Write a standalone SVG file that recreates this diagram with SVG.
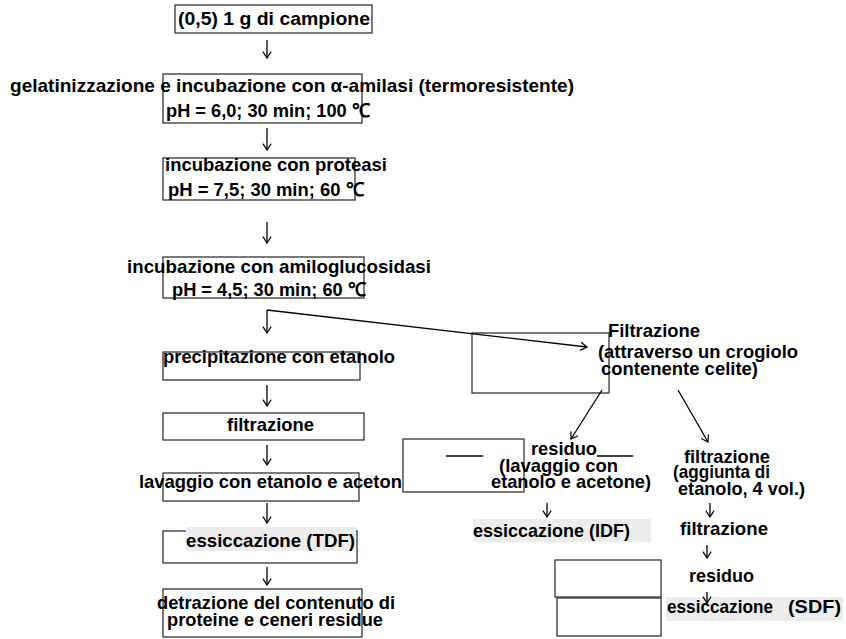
<svg xmlns="http://www.w3.org/2000/svg" width="846" height="639" viewBox="0 0 846 639">
  <style>
    .box { fill: none; stroke: #333; stroke-width: 1.3; }
    .hl { fill: #ececec; stroke: none; }
    .t { font-family: "Liberation Sans", Arial, sans-serif; font-weight: bold; font-size: 19px; fill: #000; }
    .c { fill: none; stroke: #000; stroke-width: 1.3; }
    .ca { fill: none; stroke: #000; stroke-width: 1.3; marker-end: url(#head); }
  </style>
  <defs>
    <marker id="head" viewBox="0 0 12 12" refX="11" refY="6" markerWidth="11" markerHeight="11" markerUnits="userSpaceOnUse" orient="auto">
      <path d="M4,1.5 L11,6 L4,10.5" fill="none" stroke="#000" stroke-width="1.3"/>
    </marker>
  </defs>
  <rect width="846" height="639" fill="#fff"/>

  <!-- main column -->
  <g id="campione">
    <rect class="box" x="175" y="5" width="197" height="28"/>
    <text class="t" x="178" y="25" textLength="192" lengthAdjust="spacingAndGlyphs">(0,5) 1 g di campione</text>
  </g>
  <g id="gelatinizzazione">
    <rect class="box" x="163" y="74" width="199" height="49"/>
    <text class="t" x="10" y="92" textLength="564" lengthAdjust="spacingAndGlyphs">gelatinizzazione e incubazione con α-amilasi (termoresistente)</text>
    <text class="t" x="166" y="117" textLength="204" lengthAdjust="spacingAndGlyphs">pH = 6,0; 30 min; 100 ℃</text>
  </g>
  <g id="proteasi">
    <rect class="box" x="163" y="158" width="192" height="42"/>
    <text class="t" x="165" y="171" textLength="222" lengthAdjust="spacingAndGlyphs">incubazione con proteasi</text>
    <text class="t" x="168" y="196" textLength="196" lengthAdjust="spacingAndGlyphs">pH = 7,5; 30 min; 60 ℃</text>
  </g>
  <g id="amiloglucosidasi">
    <rect class="box" x="163" y="257" width="201" height="41"/>
    <text class="t" x="127" y="273" textLength="304" lengthAdjust="spacingAndGlyphs">incubazione con amiloglucosidasi</text>
    <text class="t" x="172" y="296" textLength="194" lengthAdjust="spacingAndGlyphs">pH = 4,5; 30 min; 60 ℃</text>
  </g>
  <g id="precipitazione">
    <rect class="box" x="163" y="352" width="197" height="28"/>
    <text class="t" x="163" y="363" textLength="232" lengthAdjust="spacingAndGlyphs">precipitazione con etanolo</text>
  </g>
  <g id="filtrazione-1">
    <rect class="box" x="163" y="413" width="201" height="27"/>
    <text class="t" x="227" y="431" textLength="87" lengthAdjust="spacingAndGlyphs">filtrazione</text>
  </g>
  <g id="lavaggio">
    <rect class="box" x="163" y="473" width="196" height="28"/>
    <text class="t" x="139" y="488" textLength="263" lengthAdjust="spacingAndGlyphs">lavaggio con etanolo e aceton</text>
  </g>
  <g id="essiccazione-tdf">
    <rect class="box" x="163" y="531" width="194" height="32"/>
    <rect class="hl" x="186" y="527" width="170" height="24"/>
    <text class="t" x="186" y="547" textLength="169" lengthAdjust="spacingAndGlyphs">essiccazione (TDF)</text>
  </g>
  <g id="detrazione">
    <rect class="box" x="163" y="589" width="199" height="48"/>
    <text class="t" x="157" y="609" textLength="238" lengthAdjust="spacingAndGlyphs">detrazione del contenuto di</text>
    <text class="t" x="167" y="626" textLength="216" lengthAdjust="spacingAndGlyphs">proteine e ceneri residue</text>
  </g>

  <!-- filtration branch -->
  <g id="filtrazione-celite">
    <rect class="box" x="472" y="333" width="137" height="60"/>
    <text class="t" x="608" y="337" textLength="92" lengthAdjust="spacingAndGlyphs">Filtrazione</text>
    <text class="t" x="598" y="358" textLength="200" lengthAdjust="spacingAndGlyphs">(attraverso un crogiolo</text>
    <text class="t" x="601" y="375" textLength="157" lengthAdjust="spacingAndGlyphs">contenente celite)</text>
  </g>
  <g id="residuo-lavaggio">
    <rect class="box" x="403" y="439" width="121" height="53"/>
    <line class="c" x1="446" y1="456" x2="483" y2="456"/>
    <line class="c" x1="597" y1="456" x2="633" y2="456"/>
    <text class="t" x="531" y="455" textLength="66" lengthAdjust="spacingAndGlyphs">residuo</text>
    <text class="t" x="499" y="472" textLength="119" lengthAdjust="spacingAndGlyphs">(lavaggio con</text>
    <text class="t" x="491" y="488" textLength="160" lengthAdjust="spacingAndGlyphs">etanolo e acetone)</text>
  </g>
  <g id="essiccazione-idf">
    <rect class="hl" x="473" y="519" width="178" height="23"/>
    <text class="t" x="473" y="537" textLength="157" lengthAdjust="spacingAndGlyphs">essiccazione (IDF)</text>
  </g>
  <g id="filtrazione-etanolo">
    <text class="t" x="684" y="463" textLength="86" lengthAdjust="spacingAndGlyphs">filtrazione</text>
    <text class="t" x="673" y="478" textLength="97" lengthAdjust="spacingAndGlyphs">(aggiunta di</text>
    <text class="t" x="678" y="495" textLength="127" lengthAdjust="spacingAndGlyphs">etanolo, 4 vol.)</text>
  </g>
  <g id="filtrazione-2">
    <text class="t" x="680" y="535" textLength="88" lengthAdjust="spacingAndGlyphs">filtrazione</text>
  </g>
  <g id="residuo">
    <text class="t" x="689" y="582" textLength="65" lengthAdjust="spacingAndGlyphs">residuo</text>
  </g>
  <g id="essiccazione-sdf">
    <rect class="box" x="555" y="560" width="106" height="37"/>
    <rect class="box" x="557" y="598" width="104" height="38"/>
    <rect class="hl" x="666" y="597" width="177" height="24"/>
    <text class="t" x="667" y="613" textLength="106" lengthAdjust="spacingAndGlyphs">essiccazione</text>
    <text class="t" x="788" y="613" textLength="53" lengthAdjust="spacingAndGlyphs">(SDF)</text>
  </g>

  <!-- connectors -->
  <g id="connectors">
    <line class="ca" x1="267" y1="40" x2="267" y2="58"/>
    <line class="ca" x1="267" y1="128" x2="267" y2="150"/>
    <line class="ca" x1="267" y1="222" x2="267" y2="243"/>
    <line class="ca" x1="267" y1="310" x2="267" y2="333"/>
    <line class="ca" x1="267" y1="310" x2="587" y2="347"/>
    <line class="ca" x1="267" y1="385" x2="267" y2="406"/>
    <line class="ca" x1="267" y1="445" x2="267" y2="465"/>
    <line class="ca" x1="267" y1="503" x2="267" y2="523"/>
    <line class="ca" x1="267" y1="567" x2="267" y2="585"/>
    <line class="ca" x1="602" y1="390" x2="571" y2="439"/>
    <line class="ca" x1="678" y1="390" x2="708" y2="442"/>
    <line class="ca" x1="547" y1="503" x2="547" y2="517"/>
    <line class="ca" x1="710" y1="503" x2="710" y2="517"/>
    <line class="ca" x1="707" y1="545" x2="707" y2="558"/>
    <line class="ca" x1="707" y1="592" x2="707" y2="603"/>
  </g>
</svg>
